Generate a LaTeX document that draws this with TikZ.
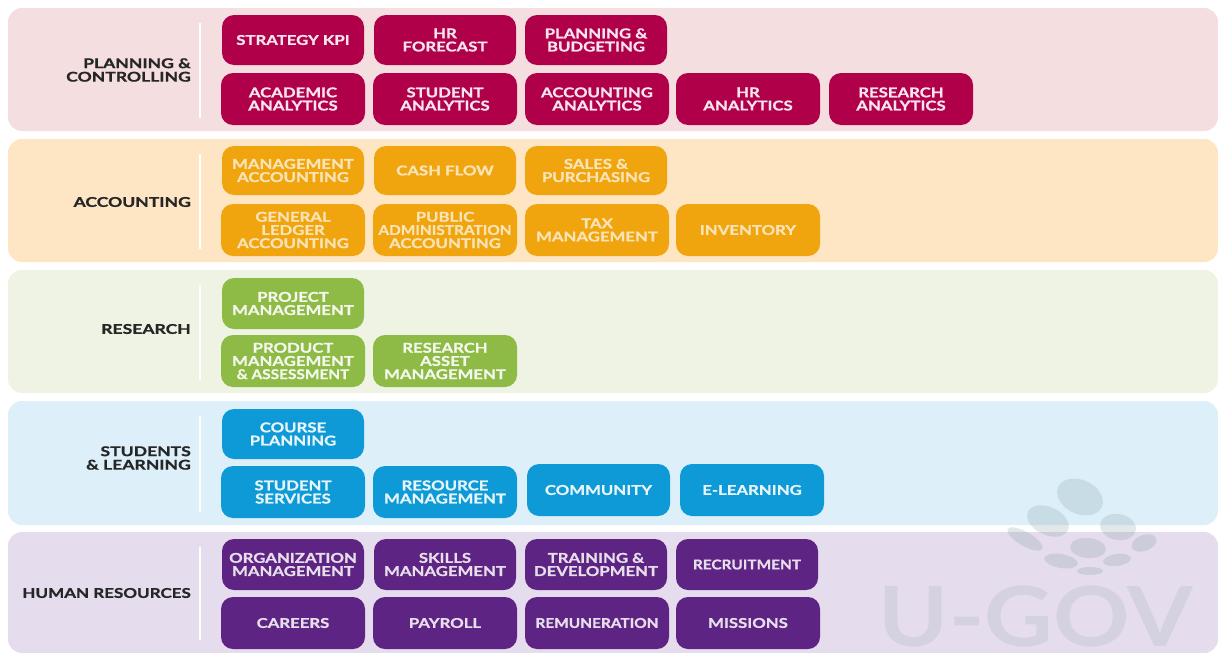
\documentclass[tikz,border=0pt]{standalone}
\usepackage{fontspec}
\setmainfont{Lato}
\newfontfamily\boxfont[FakeStretch=1.24,FakeBold=1.0]{Lato Bold}
\newfontfamily\labelfont[FakeStretch=1.3,FakeBold=1.0]{Lato Bold}
\newfontfamily\hrlabelfont[FakeStretch=1.26,FakeBold=1.0]{Lato Bold}
\newfontfamily\narrowfont[FakeStretch=1.14,FakeBold=1.0]{Lato Bold}
\newfontfamily\logofont[FakeStretch=1.14]{Lato Bold}
\newcommand\bx[7]{\node[#6,minimum width={(#4-#2)*1pt},minimum height={(#5-#3)*1pt}] (#1) at ({(#2+#4)/2},{(#3+#5)/2}) {#7};}
\newcommand\band[6]{\node[bandbox,fill=#6,minimum width={(1218-8)*1pt},minimum height={(#3-#2)*1pt}] (#1) at ({(8+1218)/2},{(#2+#3)/2}) {};
\node[bandlabel,anchor=east] (#1label) at (191,#4) {#5};
\coordinate (#1top) at (200,{#2+15});\coordinate (#1bot) at (200,{#3-13});
\draw[sepline] (#1top) -- (#1bot);}
\newcommand\logomk[5]{\fill[logomark,rotate around={#5:(#1,#2)}] (#1,#2) ellipse ({#3} and {#4});}
\definecolor{cred}{HTML}{B0004A}
\definecolor{corange}{HTML}{F0A50F}
\definecolor{cgreen}{HTML}{8DBB46}
\definecolor{cblue}{HTML}{0E9AD7}
\definecolor{cpurple}{HTML}{5E2483}
\definecolor{lred}{HTML}{F5DEDF}
\definecolor{lorange}{HTML}{FEE6C4}
\definecolor{lgreen}{HTML}{EFF3E4}
\definecolor{lblue}{HTML}{DDF0FA}
\definecolor{lpurple}{HTML}{E5DCEE}
\definecolor{logogrey}{HTML}{6F8F90}
\tikzset{
 bandbox/.style={rounded corners=14pt,inner sep=0pt,draw=none},
 bandlabel/.style={font=\labelfont\fontsize{13.5}{13.5}\selectfont,text=black!85,align=right,inner sep=0pt},
 sepline/.style={draw=white,line width=2.2pt},
 tile/.style={rounded corners=12pt,inner sep=0pt,font=\boxfont\fontsize{13.5}{13.2}\selectfont,align=center},
 redtile/.style={tile,fill=cred,text=white!90!cred},
 orangetile/.style={tile,fill=corange,text=white!70!corange},
 greentile/.style={tile,fill=cgreen,text=white!90!cgreen},
 bluetile/.style={tile,fill=cblue,text=white!90!cblue},
 purpletile/.style={tile,fill=cpurple,text=white!85!cpurple},
 logomark/.style={fill=logogrey,opacity=.2},
}
\begin{document}
\begin{tikzpicture}[x=1pt,y=-1pt]
\useasboundingbox (0,0) rectangle (1218,653);
\fill[white] (0,0) rectangle (1218,653);
\band{bplan}{8}{131}{70}{PLANNING \&\\CONTROLLING}{lred}
\band{bacc}{139}{262}{202}{ACCOUNTING}{lorange}
\band{bres}{270}{393}{329}{RESEARCH}{lgreen}
\band{bstu}{401}{525}{458}{STUDENTS\\\& LEARNING}{lblue}
\band{bhr}{532}{653}{593}{{\hrlabelfont HUMAN RESOURCES}}{lpurple}
% logo
\logomk{1080}{497}{24}{17}{-25}
\logomk{1048}{521}{22}{14}{-25}
\logomk{1118}{527}{18}{13}{-10}
\logomk{1025}{539}{20}{7}{-30}
\logomk{1088}{548}{18}{10}{-5}
\logomk{1144}{543}{13}{8}{20}
\logomk{1061}{561}{17}{7}{-10}
\logomk{1117}{560}{14}{6}{8}
\logomk{1090}{571}{13}{4}{0}
\node[inner sep=0pt,text=logogrey,text opacity=.14,font=\fontsize{83}{83}\selectfont\logofont,anchor=base] (logotext) at (1036,646) {U-GOV};
% planning
\bx{p1}{222}{15}{364}{65}{redtile}{STRATEGY KPI}
\bx{p2}{374}{15}{516}{65}{redtile}{HR\\FORECAST}
\bx{p3}{525}{15}{667}{65}{redtile}{PLANNING \&\\BUDGETING}
\bx{p4}{221}{73}{365}{125}{redtile}{ACADEMIC\\ANALYTICS}
\bx{p5}{373}{73}{517}{125}{redtile}{STUDENT\\ANALYTICS}
\bx{p6}{525}{73}{669}{125}{redtile}{ACCOUNTING\\ANALYTICS}
\bx{p7}{676}{73}{820}{125}{redtile}{HR\\ANALYTICS}
\bx{p8}{829}{73}{973}{125}{redtile}{RESEARCH\\ANALYTICS}
% accounting
\bx{a1}{222}{146}{364}{195}{orangetile}{MANAGEMENT\\ACCOUNTING}
\bx{a2}{374}{146}{516}{195}{orangetile}{CASH FLOW}
\bx{a3}{525}{146}{667}{195}{orangetile}{SALES \&\\PURCHASING}
\bx{a4}{221}{204}{365}{256}{orangetile}{GENERAL\\LEDGER\\ACCOUNTING}
\bx{a5}{373}{204}{517}{256}{orangetile}{PUBLIC\\{\narrowfont ADMINISTRATION}\\ACCOUNTING}
\bx{a6}{525}{204}{669}{256}{orangetile}{TAX\\MANAGEMENT}
\bx{a7}{676}{204}{820}{256}{orangetile}{INVENTORY}
% research
\bx{r1}{222}{278}{364}{329}{greentile}{PROJECT\\MANAGEMENT}
\bx{r2}{221}{335}{365}{387}{greentile}{PRODUCT\\MANAGEMENT\\{\narrowfont \& ASSESSMENT}}
\bx{r3}{373}{335}{517}{387}{greentile}{RESEARCH\\ASSET\\MANAGEMENT}
% students
\bx{s1}{222}{409}{364}{459}{bluetile}{COURSE\\PLANNING}
\bx{s2}{221}{466}{365}{518}{bluetile}{STUDENT\\SERVICES}
\bx{s3}{373}{466}{517}{518}{bluetile}{RESOURCE\\MANAGEMENT}
\bx{s4}{527}{464}{670}{516}{bluetile}{COMMUNITY}
\bx{s5}{680}{464}{824}{516}{bluetile}{E-LEARNING}
% hr
\bx{h1}{222}{539}{364}{590}{purpletile}{ORGANIZATION\\MANAGEMENT}
\bx{h2}{374}{539}{516}{590}{purpletile}{SKILLS\\MANAGEMENT}
\bx{h3}{525}{539}{667}{590}{purpletile}{TRAINING \&\\DEVELOPMENT}
\bx{h4}{676}{539}{818}{590}{purpletile}{{\narrowfont RECRUITMENT}}
\bx{h5}{221}{597}{365}{649}{purpletile}{CAREERS}
\bx{h6}{373}{597}{517}{649}{purpletile}{PAYROLL}
\bx{h7}{525}{597}{669}{649}{purpletile}{{\narrowfont REMUNERATION}}
\bx{h8}{676}{597}{820}{649}{purpletile}{MISSIONS}
\end{tikzpicture}
\end{document}
